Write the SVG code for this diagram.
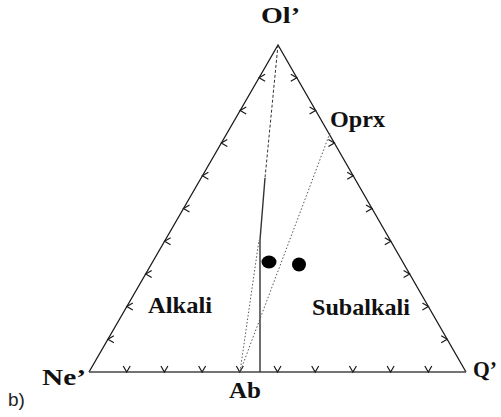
<svg xmlns="http://www.w3.org/2000/svg" width="501" height="417" viewBox="0 0 501 417">
<defs>
<style>
.edge{stroke:#1a1a1a;stroke-width:1.3;fill:none}
.base{stroke:#444;stroke-width:1.6;fill:none}
.tick{stroke:#1a1a1a;stroke-width:1.2;fill:none}
.dot{stroke:#555;stroke-width:1;stroke-dasharray:1.5 2;fill:none}
.dash{stroke:#333;stroke-width:1;stroke-dasharray:3 2;fill:none}
.solid{stroke:#333;stroke-width:1.4;fill:none}
.lbl{font-family:"Liberation Serif","Times New Roman",serif;font-weight:bold;font-size:23px;fill:#111}
.pt{fill:#000}
</style>
<path id="tb" d="M-3.5,-6 L0,0 L3.5,-6"/>
<path id="tl" d="M6,-3.5 L0,0 L6,3.5"/>
<path id="tr" d="M-6,-3.5 L0,0 L-6,3.5"/>
</defs>
<rect width="501" height="417" fill="#fff"/>
<g id="triangle">
<path class="edge" d="M89,372 L278,45 L466,372"/>
<line class="base" x1="89" y1="372" x2="466" y2="372"/>
</g>
<g id="ticks" class="tick">
<use href="#tb" x="126.7" y="372"/><use href="#tb" x="164.4" y="372"/><use href="#tb" x="202.1" y="372"/>
<use href="#tb" x="239.8" y="372"/><use href="#tb" x="277.5" y="372"/><use href="#tb" x="315.2" y="372"/>
<use href="#tb" x="352.9" y="372"/><use href="#tb" x="390.6" y="372"/><use href="#tb" x="428.3" y="372"/>
<use href="#tl" x="107.9" y="339.3"/><use href="#tl" x="126.8" y="306.6"/><use href="#tl" x="145.7" y="273.9"/>
<use href="#tl" x="164.6" y="241.2"/><use href="#tl" x="183.5" y="208.5"/><use href="#tl" x="202.4" y="175.8"/>
<use href="#tl" x="221.3" y="143.1"/><use href="#tl" x="240.2" y="110.4"/><use href="#tl" x="259.1" y="77.7"/>
<use href="#tr" x="447.2" y="339.3"/><use href="#tr" x="428.4" y="306.6"/><use href="#tr" x="409.6" y="273.9"/>
<use href="#tr" x="390.8" y="241.2"/><use href="#tr" x="372" y="208.5"/><use href="#tr" x="353.2" y="175.8"/>
<use href="#tr" x="334.4" y="143.1"/><use href="#tr" x="315.6" y="110.4"/><use href="#tr" x="296.8" y="77.7"/>
</g>
<g id="connectors">
<path class="dash" d="M278,45 L265,178"/>
<path class="solid" d="M265,178 L260,240 L260,372"/>
<path class="dot" d="M240,372 L259,240"/>
<path class="dot" d="M330,133 L240,372"/>
</g>
<g id="points">
<ellipse class="pt" cx="269" cy="262" rx="7.5" ry="6.5"/>
<ellipse class="pt" cx="299" cy="264.5" rx="7" ry="7"/>
</g>
<g id="labels">
<text class="lbl" x="261" y="23" textLength="39" lengthAdjust="spacingAndGlyphs">Ol’</text>
<text class="lbl" x="330" y="127" textLength="55" lengthAdjust="spacingAndGlyphs">Oprx</text>
<text class="lbl" x="148" y="313" textLength="64" lengthAdjust="spacingAndGlyphs">Alkali</text>
<text class="lbl" x="312" y="315" textLength="98" lengthAdjust="spacingAndGlyphs">Subalkali</text>
<text class="lbl" x="42" y="385" textLength="44" lengthAdjust="spacingAndGlyphs">Ne’</text>
<text class="lbl" x="229" y="398" textLength="32" lengthAdjust="spacingAndGlyphs">Ab</text>
<text class="lbl" x="473" y="377" textLength="24" lengthAdjust="spacingAndGlyphs">Q’</text>
<text x="8" y="406" font-family="Liberation Sans, Arial, sans-serif" font-size="19" fill="#222">b)</text>
</g>
</svg>
